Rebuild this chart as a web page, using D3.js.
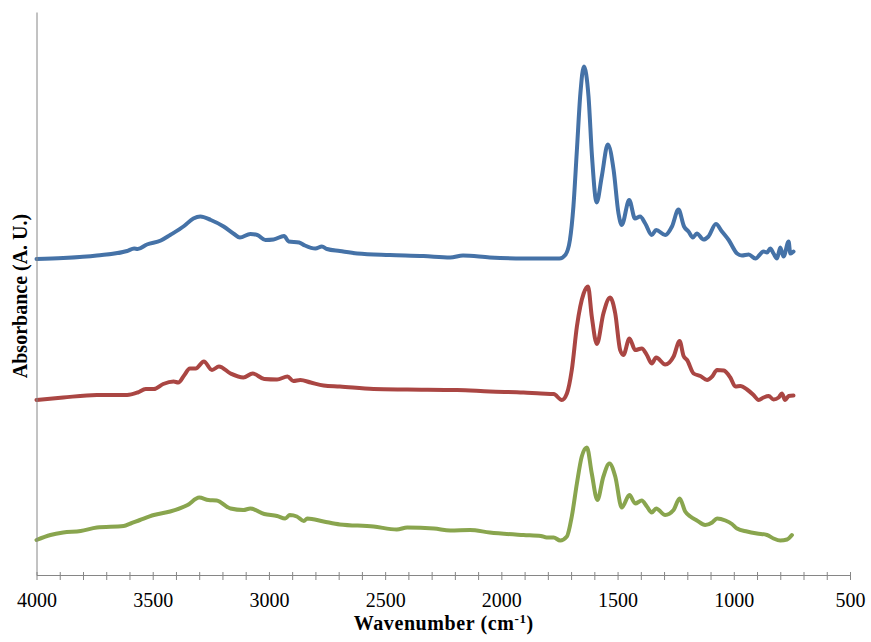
<!DOCTYPE html>
<html>
<head>
<meta charset="utf-8">
<script src="https://cdn.jsdelivr.net/npm/d3@7/dist/d3.min.js"></script>
<style>
  html, body { margin: 0; padding: 0; background: #fff; }
  svg { display: block; }
  svg text { font-family: "Times New Roman", "Liberation Serif", "DejaVu Serif", serif !important; }
</style>
</head>
<body>
<svg id="chart" width="871" height="642"></svg>
<script>
// FTIR spectra, three samples stacked with vertical offsets (absorbance, arbitrary units)
const wavenumberTicks = [4000, 3500, 3000, 2500, 2000, 1500, 1000, 500];

const blueWavenumber = [4000, 3885, 3740, 3610, 3580, 3565, 3525, 3465, 3425, 3365, 3325, 3295, 3250, 3195, 3150, 3125, 3080, 3050, 3015, 2980, 2935, 2915, 2870, 2845, 2800, 2772, 2750, 2695, 2620, 2480, 2335, 2220, 2165, 2050, 1905, 1830, 1750, 1725, 1705, 1690, 1675, 1660, 1645, 1625, 1610, 1590, 1568, 1542, 1517, 1496, 1482, 1450, 1425, 1403, 1381, 1353, 1334, 1295, 1266, 1238, 1214, 1195, 1176, 1159, 1130, 1109, 1077, 1051, 1022, 986, 965, 936, 907, 872, 857, 843, 829, 814, 800, 786, 764, 757, 743];
const blueAbsorbance = [0.632, 0.634, 0.639, 0.648, 0.653, 0.652, 0.661, 0.669, 0.680, 0.698, 0.713, 0.717, 0.710, 0.697, 0.682, 0.675, 0.682, 0.680, 0.670, 0.671, 0.678, 0.667, 0.665, 0.659, 0.653, 0.657, 0.652, 0.648, 0.643, 0.640, 0.638, 0.635, 0.639, 0.635, 0.633, 0.633, 0.633, 0.640, 0.670, 0.737, 0.850, 0.963, 1.017, 0.957, 0.837, 0.745, 0.797, 0.861, 0.810, 0.723, 0.700, 0.750, 0.713, 0.717, 0.703, 0.680, 0.690, 0.680, 0.697, 0.731, 0.697, 0.687, 0.675, 0.683, 0.671, 0.677, 0.702, 0.687, 0.670, 0.643, 0.639, 0.641, 0.633, 0.647, 0.645, 0.653, 0.643, 0.633, 0.655, 0.637, 0.667, 0.643, 0.647];

const redWavenumber = [4000, 3885, 3740, 3610, 3565, 3530, 3495, 3455, 3410, 3390, 3365, 3340, 3315, 3280, 3245, 3215, 3165, 3110, 3070, 3020, 2965, 2920, 2895, 2865, 2820, 2765, 2695, 2550, 2405, 2190, 2050, 1905, 1830, 1775, 1740, 1718, 1697, 1675, 1646, 1627, 1611, 1589, 1561, 1532, 1510, 1489, 1475, 1449, 1424, 1396, 1374, 1353, 1334, 1295, 1259, 1233, 1216, 1201, 1173, 1144, 1115, 1093, 1072, 1043, 1015, 993, 972, 943, 915, 893, 872, 850, 829, 807, 793, 779, 764, 743];
const redAbsorbance = [0.350, 0.355, 0.360, 0.360, 0.365, 0.372, 0.372, 0.382, 0.387, 0.385, 0.399, 0.413, 0.413, 0.427, 0.410, 0.417, 0.403, 0.395, 0.403, 0.392, 0.391, 0.397, 0.388, 0.390, 0.385, 0.379, 0.377, 0.372, 0.371, 0.370, 0.367, 0.365, 0.363, 0.362, 0.350, 0.363, 0.410, 0.497, 0.563, 0.577, 0.517, 0.462, 0.523, 0.555, 0.523, 0.450, 0.440, 0.473, 0.450, 0.453, 0.440, 0.423, 0.435, 0.421, 0.437, 0.468, 0.438, 0.430, 0.403, 0.398, 0.390, 0.397, 0.410, 0.409, 0.395, 0.377, 0.378, 0.371, 0.360, 0.350, 0.355, 0.358, 0.351, 0.355, 0.363, 0.350, 0.358, 0.359];

const greenWavenumber = [4000, 3940, 3885, 3810, 3740, 3625, 3595, 3555, 3495, 3425, 3350, 3300, 3260, 3225, 3165, 3110, 3080, 3020, 2965, 2930, 2910, 2880, 2850, 2835, 2765, 2695, 2550, 2450, 2405, 2290, 2220, 2135, 2050, 1905, 1830, 1805, 1775, 1747, 1718, 1697, 1675, 1654, 1632, 1611, 1587, 1561, 1535, 1510, 1482, 1449, 1424, 1396, 1374, 1353, 1334, 1295, 1259, 1233, 1209, 1187, 1159, 1123, 1093, 1072, 1036, 1008, 986, 943, 900, 857, 829, 800, 771, 750];
const greenAbsorbance = [0.070, 0.080, 0.085, 0.088, 0.095, 0.098, 0.103, 0.110, 0.120, 0.127, 0.140, 0.155, 0.150, 0.149, 0.133, 0.130, 0.133, 0.122, 0.118, 0.113, 0.120, 0.117, 0.108, 0.113, 0.107, 0.101, 0.097, 0.091, 0.095, 0.093, 0.089, 0.090, 0.085, 0.080, 0.078, 0.075, 0.075, 0.069, 0.077, 0.117, 0.183, 0.237, 0.255, 0.203, 0.150, 0.197, 0.223, 0.197, 0.135, 0.160, 0.143, 0.149, 0.137, 0.125, 0.133, 0.120, 0.130, 0.153, 0.127, 0.117, 0.109, 0.100, 0.105, 0.113, 0.109, 0.102, 0.093, 0.087, 0.083, 0.080, 0.073, 0.069, 0.071, 0.080];

const seriesColors = ["#4572A7", "#AA4643", "#89A54E"];

const series = [
  { wn: blueWavenumber, a: blueAbsorbance, color: seriesColors[0] },
  { wn: redWavenumber, a: redAbsorbance, color: seriesColors[1] },
  { wn: greenWavenumber, a: greenAbsorbance, color: seriesColors[2] }
];

const svg = d3.select("#chart");
const plot = { left: 36.5, right: 850, top: 12, bottom: 575 };

const x = d3.scaleLinear().domain([4000, 500]).range([plot.left, plot.right]);
const y = d3.scaleLinear().domain([0, 1.126]).range([plot.bottom, plot.top]);

const axisColor = "#868686";
const serif = '"Times New Roman", "Liberation Serif", "DejaVu Serif", serif';

// spectra
const line = d3.line()
  .x(d => x(d[0]))
  .y(d => y(d[1]))
  .curve(d3.curveMonotoneX);

svg.append("g").selectAll("path")
  .data(series)
  .join("path")
  .attr("d", s => line(s.wn.map((w, i) => [w, s.a[i]])))
  .attr("fill", "none")
  .attr("stroke", s => s.color)
  .attr("stroke-width", 4)
  .attr("stroke-linejoin", "round")
  .attr("stroke-linecap", "round");

// y axis: plain line, no ticks
svg.append("g")
  .attr("transform", `translate(${plot.left},0)`)
  .call(d3.axisLeft(y).tickValues([]).tickSizeOuter(0))
  .call(g => g.select(".domain").attr("stroke", axisColor).attr("stroke-width", 1));

// x axis: crossing minor ticks every 100, labels every 500
const minorTicks = d3.range(4000, 499, -100);
const xAxis = svg.append("g")
  .attr("transform", `translate(0,${plot.bottom})`)
  .call(d3.axisBottom(x).tickValues(minorTicks).tickSizeOuter(0)
    .tickFormat(d => wavenumberTicks.includes(d) ? d : ""));

xAxis.attr("font-family", serif).attr("font-size", 20);
xAxis.select(".domain").attr("stroke", axisColor).attr("stroke-width", 1);
xAxis.selectAll(".tick line")
  .attr("stroke", axisColor)
  .attr("y1", -3)
  .attr("y2", 5);
xAxis.selectAll(".tick text")
  .attr("fill", "#000")
  .attr("y", 31.5)
  .attr("dy", 0);

// axis titles
const xTitle = svg.append("text")
  .attr("x", (plot.left + plot.right) / 2 + 0.5)
  .attr("y", 630)
  .attr("text-anchor", "middle")
  .attr("font-family", serif)
  .attr("font-weight", "bold")
  .attr("font-size", 20)
  .attr("letter-spacing", 0.6)
  .attr("fill", "#000");
xTitle.append("tspan").text("Wavenumber (cm");
xTitle.append("tspan").attr("font-size", 13).attr("dy", -7).text("-1");
xTitle.append("tspan").attr("dy", 7).text(")");

svg.append("text")
  .attr("transform", `translate(26.5,296) rotate(-90)`)
  .attr("text-anchor", "middle")
  .attr("font-family", serif)
  .attr("font-weight", "bold")
  .attr("font-size", 20)
  .attr("fill", "#000")
  .text("Absorbance (A. U.)");
</script>
</body>
</html>
